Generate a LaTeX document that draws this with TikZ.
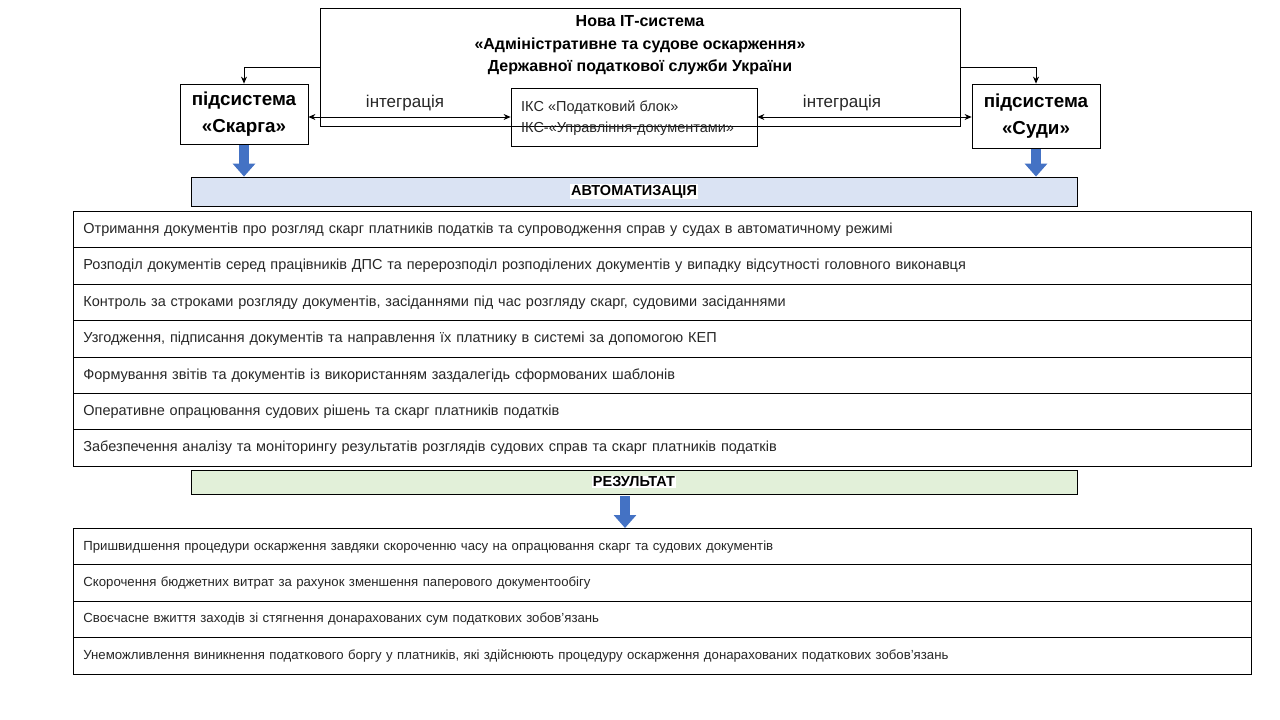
\documentclass[tikz,border=0pt]{standalone}
\usepackage{fontspec}
\setmainfont{Liberation Sans}
\usetikzlibrary{arrows.meta,calc}
\definecolor{ablue}{HTML}{4472C4}
\definecolor{autofill}{HTML}{DAE3F3}
\definecolor{resfill}{HTML}{E2F0D9}
\definecolor{txt}{HTML}{262626}
\tikzset{
  box/.style={draw=black, line width=0.8pt, inner sep=0pt},
  rowbox/.style={draw=black, line width=0.8pt, anchor=north west, inner xsep=10pt, inner ysep=0pt,
     text width=1158pt, minimum height=36.4pt, align=left, font=\fontsize{14.5}{17}\selectfont, text=txt},
  rowsmall/.style={rowbox, font=\fontsize{13.2}{15}\selectfont},
  thinarrow/.style={line width=0.8pt, -{Stealth[length=7pt,width=6pt]}},
  intarrow/.style={line width=0.8pt, {Stealth[length=7pt,width=6pt]}-{Stealth[length=7pt,width=6pt]}},
  bluearrow/.style={draw=ablue, line width=10pt, -{Triangle[length=13pt,width=22pt]}},
  band/.style={draw=black, line width=0.8pt, minimum width=886pt, inner sep=0pt},
  bandlabel/.style={fill=white, inner sep=1pt, font=\bfseries\fontsize{14.5}{16}\selectfont}
}
\begin{document}
\begin{tikzpicture}[x=1pt,y=-1pt]
\useasboundingbox (0,0) rectangle (1280,720);
% top system box
\node[box, minimum width=640pt, minimum height=118pt] (top) at (640,67) {};
\node[align=center, font=\bfseries\fontsize{16}{22.5}\selectfont, inner sep=0pt] (title) at (640,45.5)
  {Нова ІТ-система\\«Адміністративне та судове оскарження»\\Державної податкової служби України};
% subsystems
\node[box, fill=white, minimum width=128pt, minimum height=60pt, align=center,
      font=\bfseries\fontsize{18.8}{27}\selectfont] (skarga) at (244,114) {підсистема\\«Скарга»};
\node[box, fill=white, minimum width=128pt, minimum height=64pt, align=center,
      font=\bfseries\fontsize{18.8}{27}\selectfont] (sudy) at (1036,116) {підсистема\\«Суди»};
% ICS box
\node[box, minimum width=246pt, minimum height=58pt] (ics) at (634,117) {};
\node[anchor=west, align=left, inner sep=0pt, font=\fontsize{14.5}{21}\selectfont, text=txt] (icstext) at (521,118)
  {ІКС «Податковий блок»\\ІКС-«Управління-документами»};
% connectors
\draw[thinarrow] (top.west) -| (skarga.north);
\draw[thinarrow] (top.east) -| (sudy.north);
\draw[intarrow] (skarga.east |- ics.west) -- (ics.west);
\draw[intarrow] (ics.east) -- (sudy.west |- ics.east);
\node[font=\fontsize{17}{20}\selectfont, text=txt] (int1) at (405,103) {інтеграція};
\node[font=\fontsize{17}{20}\selectfont, text=txt] (int2) at (842,103) {інтеграція};
% automation band
\node[band, fill=autofill, minimum height=29pt] (auto) at (634,191.5) {};
\node[bandlabel] (autolabel) at (auto.center) {АВТОМАТИЗАЦІЯ};
\draw[bluearrow] ($(skarga.south)+(0,1)$) -- (skarga.south |- auto.north);
\draw[bluearrow] ($(sudy.south)+(0,1)$) -- (sudy.south |- auto.north);
% automation rows
\node[rowbox] (r1) at (73,211) {Отримання документів про розгляд скарг платників податків та супроводження справ у судах в автоматичному режимі};
\node[rowbox] (r2) at (73,247.4) {Розподіл документів серед працівників ДПС та перерозподіл розподілених документів у випадку відсутності головного виконавця};
\node[rowbox] (r3) at (73,283.8) {Контроль за строками розгляду документів, засіданнями під час розгляду скарг, судовими засіданнями};
\node[rowbox] (r4) at (73,320.2) {Узгодження, підписання документів та направлення їх платнику в системі за допомогою КЕП};
\node[rowbox] (r5) at (73,356.6) {Формування звітів та документів із використанням заздалегідь сформованих шаблонів};
\node[rowbox] (r6) at (73,393) {Оперативне опрацювання судових рішень та скарг платників податків};
\node[rowbox] (r7) at (73,429.4) {Забезпечення аналізу та моніторингу результатів розглядів судових справ та скарг платників податків};
% result band
\node[band, fill=resfill, minimum height=24pt] (res) at (634,482) {};
\node[bandlabel] (reslabel) at (res.center) {РЕЗУЛЬТАТ};
% result rows
\node[rowsmall] (s1) at (73,528) {Пришвидшення процедури оскарження завдяки скороченню часу на опрацювання скарг та судових документів};
\node[rowsmall] (s2) at (73,564.4) {Скорочення бюджетних витрат за рахунок зменшення паперового документообігу};
\node[rowsmall] (s3) at (73,600.8) {Своєчасне вжиття заходів зі стягнення донарахованих сум податкових зобов’язань};
\node[rowsmall] (s4) at (73,637.2) {Унеможливлення виникнення податкового боргу у платників, які здійснюють процедуру оскарження донарахованих податкових зобов’язань};
\coordinate (ra) at ($(res.south)+(-9,2)$);
\draw[bluearrow] (ra) -- (ra |- s1.north);
\end{tikzpicture}
\end{document}
